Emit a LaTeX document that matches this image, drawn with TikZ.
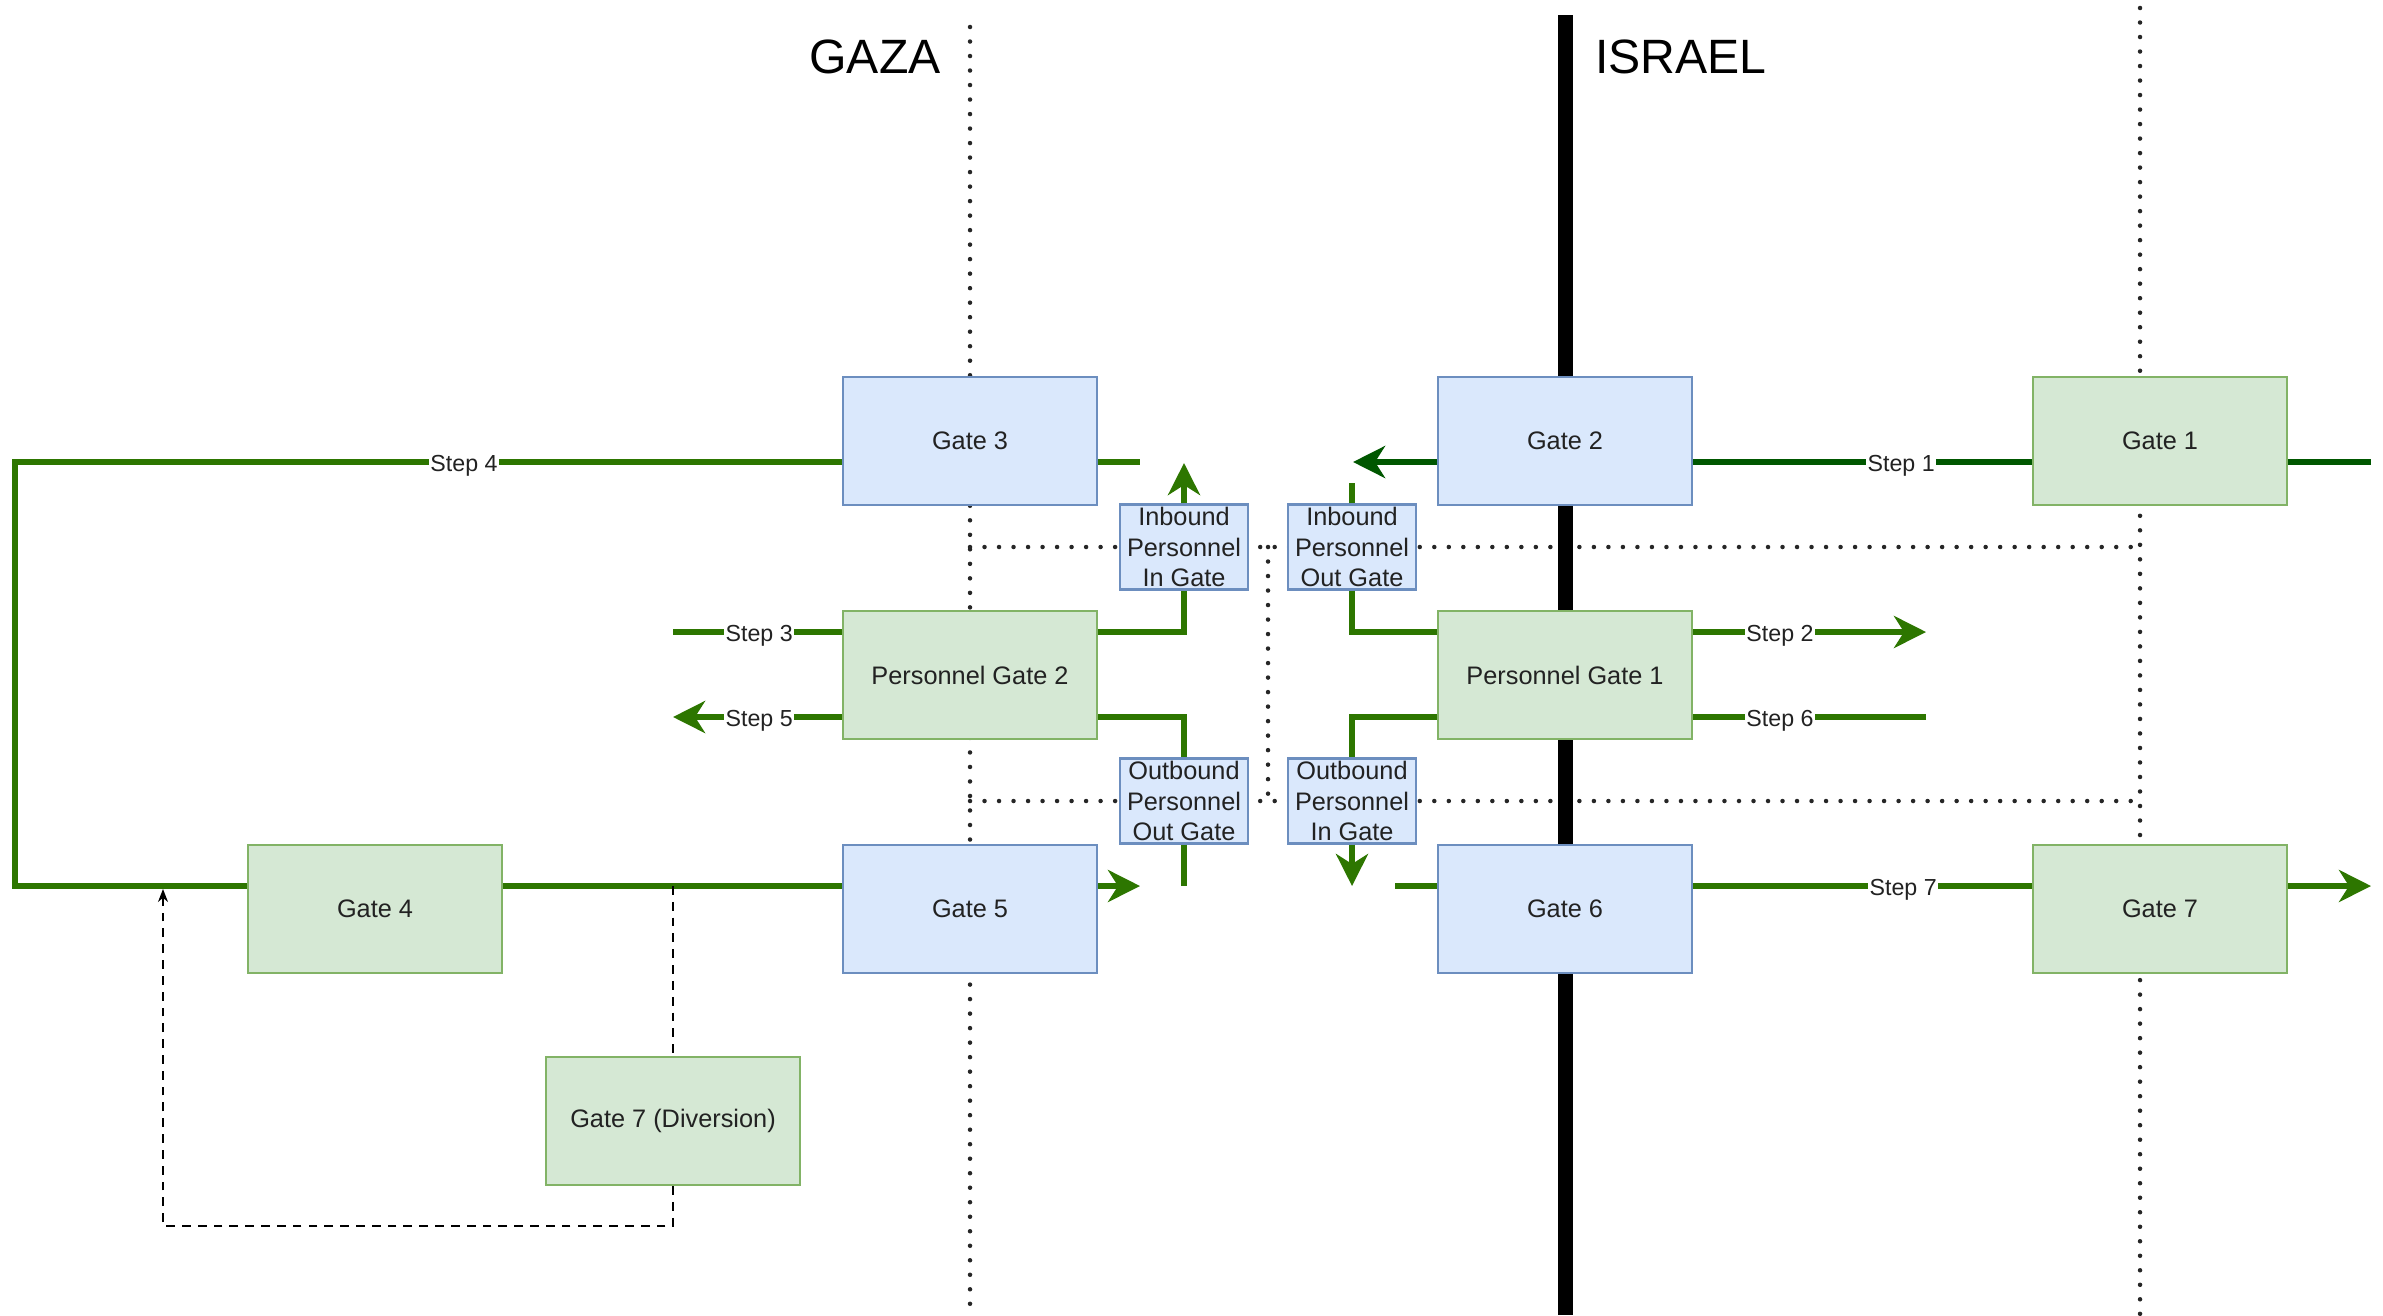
\documentclass[tikz,border=0pt]{standalone}
\usepackage{fontspec}
\setmainfont{Liberation Sans}
\usetikzlibrary{arrows.meta,calc}
\definecolor{bfill}{HTML}{DAE8FC}
\definecolor{bdraw}{HTML}{6C8EBF}
\definecolor{gfill}{HTML}{D5E8D4}
\definecolor{gdraw}{HTML}{82B366}
\definecolor{lgreen}{HTML}{2D7600}
\definecolor{dgreen}{HTML}{005700}
\definecolor{txt}{HTML}{222222}
\tikzset{
  box/.style={draw, line width=0.6pt, minimum width=2.54cm, minimum height=1.28cm, inner sep=0pt, text=txt, font=\fontsize{7.2}{8.6}\selectfont},
  bluebox/.style={box, fill=bfill, draw=bdraw},
  greenbox/.style={box, fill=gfill, draw=gdraw},
  smallbox/.style={draw=bdraw, fill=bfill, line width=0.6pt, minimum width=1.28cm, minimum height=0.85cm, inner sep=0pt, align=center, text=txt, font=\fontsize{7.2}{8.6}\selectfont},
  gl/.style={draw=lgreen, line width=0.06cm},
  dgl/.style={draw=dgreen, line width=0.06cm},
  tip/.style={-{Stealth[length=0.32cm, width=0.32cm, inset=0.1cm]}},
  steplbl/.style={fill=white, inner sep=0.5pt, yshift=-0.04cm, text=txt, font=\fontsize{6.6}{7.5}\selectfont},
  dotline/.style={draw=black!85, line width=0.045cm, dash pattern=on 0pt off 0.145cm, line cap=round},
  dashline/.style={draw=black, line width=0.45pt, dash pattern=on 2.5pt off 2pt},
  title/.style={font=\fontsize{13.7}{15}\selectfont, text=black, inner sep=0pt}
}
\begin{document}
\begin{tikzpicture}[x=0.01cm, y=-0.01cm]
\useasboundingbox (0,0) rectangle (2383,1315);
% region borders
\draw[dotline] (970,27) -- (970,1315);
\draw[dotline] (2140,8) -- (2140,1315);
\draw[dotline] (970,547) -- (2140,547);
\draw[dotline] (970,801) -- (2140,801);
\draw[dotline] (1268,547) -- (1268,801);
\draw[line width=0.15cm] (1565,15) -- (1565,1315);
\node[title] (gaza) at (875,57) {GAZA};
\node[title] (israel) at (1681,57) {ISRAEL};
% boxes
\node[bluebox] (g3) at (970,441) {Gate 3};
\node[bluebox] (g2) at (1565,441) {Gate 2};
\node[greenbox] (g1) at (2160,441) {Gate 1};
\node[greenbox] (pg2) at (970,675) {Personnel Gate 2};
\node[greenbox] (pg1) at (1565,675) {Personnel Gate 1};
\node[greenbox] (g4) at (375,909) {Gate 4};
\node[bluebox] (g5) at (970,909) {Gate 5};
\node[bluebox] (g6) at (1565,909) {Gate 6};
\node[greenbox] (g7) at (2160,909) {Gate 7};
\node[greenbox] (g7d) at (673,1121) {Gate 7 (Diversion)};
\node[smallbox] (ipi) at (1184,547) {Inbound\\Personnel\\In Gate};
\node[smallbox] (ipo) at (1352,547) {Inbound\\Personnel\\Out Gate};
\node[smallbox] (opo) at (1184,801) {Outbound\\Personnel\\Out Gate};
\node[smallbox] (opi) at (1352,801) {Outbound\\Personnel\\In Gate};
% free ends
\coordinate (e3) at (1140,462);
\coordinate (eipi) at (1184,463);
\coordinate (e2) at (1353,462);
\coordinate (e1) at (2371,462);
\coordinate (eipo) at (1352,483);
\coordinate (es2) at (1926,632);
\coordinate (es6) at (1926,717);
\coordinate (eopi) at (1352,886);
\coordinate (e6) at (1395,886);
\coordinate (e7) at (2371,886);
\coordinate (eopo) at (1184,886);
\coordinate (e5) at (1140,886);
\coordinate (es3) at (673,632);
\coordinate (es5) at (673,717);
\coordinate (ed) at (673,886);
\coordinate (eret) at (163,889);
% green connectors
\draw[gl] ($(g3.west)+(0,21)$) -- node[steplbl, pos=0.457]{Step 4} (15,462) -- (15,886) -- ($(g4.west)+(0,-23)$);
\draw[gl] ($(g3.east)+(0,21)$) -- (e3);
\draw[gl] ($(pg2.east)+(0,-43)$) -| (ipi.south);
\draw[gl, tip] (ipi.north) -- (eipi);
\draw[dgl, tip] ($(g2.west)+(0,21)$) -- (e2);
\draw[dgl] ($(g1.west)+(0,21)$) -- node[steplbl, pos=0.386]{Step 1} ($(g2.east)+(0,21)$);
\draw[dgl] ($(g1.east)+(0,21)$) -- (e1);
\draw[gl] (ipo.north) -- (eipo);
\draw[gl] (ipo.south) |- ($(pg1.west)+(0,-43)$);
\draw[gl, tip] ($(pg1.east)+(0,-43)$) -- node[steplbl, pos=0.373]{Step 2} (es2);
\draw[gl] (es6) -- node[steplbl, pos=0.627]{Step 6} ($(pg1.east)+(0,42)$);
\draw[gl] ($(pg1.west)+(0,42)$) -| (opi.north);
\draw[gl, tip] (opi.south) -- (eopi);
\draw[gl] (e6) -- ($(g6.west)+(0,-23)$);
\draw[gl] ($(g6.east)+(0,-23)$) -- node[steplbl, pos=0.62]{Step 7} ($(g7.west)+(0,-23)$);
\draw[gl, tip] ($(g7.east)+(0,-23)$) -- (e7);
\draw[gl] ($(pg2.east)+(0,42)$) -| (opo.north);
\draw[gl] (opo.south) -- (eopo);
\draw[gl, tip] ($(g5.east)+(0,-23)$) -- (e5);
\draw[gl] (es3) -- node[steplbl, pos=0.51]{Step 3} ($(pg2.west)+(0,-43)$);
\draw[gl, tip] ($(pg2.west)+(0,42)$) -- node[steplbl, pos=0.49]{Step 5} (es5);
\draw[gl] ($(g4.east)+(0,-23)$) -- ($(g5.west)+(0,-23)$);
% diversion
\draw[dashline] (ed) -- (g7d.north);
\draw[dashline, -{Stealth[length=0.13cm, width=0.1cm]}] (g7d.south) -- (673,1226) -| (eret);
\end{tikzpicture}
\end{document}
